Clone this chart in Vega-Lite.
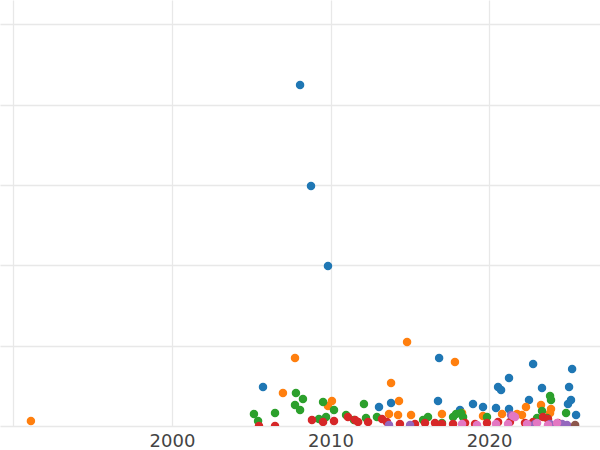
{
  "$schema": "https://vega.github.io/schema/vega-lite/v6.json",
  "width": 600,
  "height": 426,
  "autosize": {"type": "none"},
  "padding": {"left": 0, "top": 0, "right": 0, "bottom": 24},
  "background": "white",
  "config": {"view": {"stroke": null}},
  "data": {"values": [
    {"series": "A", "year": 2008.08, "value": 424.5},
    {"series": "A", "year": 2008.77, "value": 298.8},
    {"series": "A", "year": 2009.84, "value": 199.2},
    {"series": "A", "year": 2005.74, "value": 48.6},
    {"series": "A", "year": 2016.85, "value": 84.7},
    {"series": "A", "year": 2022.78, "value": 77.2},
    {"series": "A", "year": 2025.24, "value": 71.0},
    {"series": "A", "year": 2021.26, "value": 59.8},
    {"series": "A", "year": 2020.57, "value": 48.6},
    {"series": "A", "year": 2020.76, "value": 44.8},
    {"series": "A", "year": 2023.34, "value": 47.3},
    {"series": "A", "year": 2025.05, "value": 48.6},
    {"series": "A", "year": 2013.82, "value": 28.6},
    {"series": "A", "year": 2013.06, "value": 23.7},
    {"series": "A", "year": 2018.99, "value": 27.4},
    {"series": "A", "year": 2019.62, "value": 23.7},
    {"series": "A", "year": 2022.52, "value": 32.4},
    {"series": "A", "year": 2016.78, "value": 31.1},
    {"series": "A", "year": 2018.17, "value": 19.9},
    {"series": "A", "year": 2020.44, "value": 22.4},
    {"series": "A", "year": 2021.26, "value": 21.2},
    {"series": "A", "year": 2025.17, "value": 32.4},
    {"series": "A", "year": 2024.98, "value": 27.4},
    {"series": "A", "year": 2025.49, "value": 13.7},
    {"series": "B", "year": 1991.10, "value": 6.2},
    {"series": "B", "year": 2007.76, "value": 84.7},
    {"series": "B", "year": 2007.00, "value": 41.1},
    {"series": "B", "year": 2010.09, "value": 31.1},
    {"series": "B", "year": 2009.84, "value": 24.9},
    {"series": "B", "year": 2014.83, "value": 104.6},
    {"series": "B", "year": 2017.85, "value": 79.7},
    {"series": "B", "year": 2013.82, "value": 53.5},
    {"series": "B", "year": 2014.32, "value": 31.1},
    {"series": "B", "year": 2013.69, "value": 14.9},
    {"series": "B", "year": 2014.26, "value": 13.7},
    {"series": "B", "year": 2015.08, "value": 13.7},
    {"series": "B", "year": 2017.03, "value": 14.9},
    {"series": "B", "year": 2018.30, "value": 16.2},
    {"series": "B", "year": 2019.62, "value": 12.5},
    {"series": "B", "year": 2020.82, "value": 14.9},
    {"series": "B", "year": 2021.77, "value": 14.9},
    {"series": "B", "year": 2022.33, "value": 23.7},
    {"series": "B", "year": 2023.28, "value": 26.1},
    {"series": "B", "year": 2023.91, "value": 21.2},
    {"series": "B", "year": 2023.85, "value": 16.2},
    {"series": "B", "year": 2022.08, "value": 13.7},
    {"series": "C", "year": 2005.17, "value": 14.9},
    {"series": "C", "year": 2006.50, "value": 16.2},
    {"series": "C", "year": 2005.43, "value": 6.2},
    {"series": "C", "year": 2007.82, "value": 41.1},
    {"series": "C", "year": 2008.26, "value": 33.6},
    {"series": "C", "year": 2007.76, "value": 26.1},
    {"series": "C", "year": 2008.08, "value": 19.9},
    {"series": "C", "year": 2009.53, "value": 29.9},
    {"series": "C", "year": 2010.22, "value": 19.9},
    {"series": "C", "year": 2009.27, "value": 8.7},
    {"series": "C", "year": 2009.72, "value": 11.2},
    {"series": "C", "year": 2010.98, "value": 13.7},
    {"series": "C", "year": 2011.48, "value": 7.5},
    {"series": "C", "year": 2012.11, "value": 27.4},
    {"series": "C", "year": 2012.24, "value": 10.0},
    {"series": "C", "year": 2012.93, "value": 11.2},
    {"series": "C", "year": 2015.84, "value": 7.5},
    {"series": "C", "year": 2016.15, "value": 11.2},
    {"series": "C", "year": 2017.03, "value": 3.7},
    {"series": "C", "year": 2017.73, "value": 11.2},
    {"series": "C", "year": 2017.92, "value": 14.9},
    {"series": "C", "year": 2018.23, "value": 16.2},
    {"series": "C", "year": 2018.36, "value": 11.2},
    {"series": "C", "year": 2019.87, "value": 11.2},
    {"series": "C", "year": 2023.85, "value": 37.4},
    {"series": "C", "year": 2023.91, "value": 32.4},
    {"series": "C", "year": 2023.34, "value": 18.7},
    {"series": "C", "year": 2024.86, "value": 16.2},
    {"series": "C", "year": 2023.66, "value": 10.0},
    {"series": "C", "year": 2023.03, "value": 10.0},
    {"series": "D", "year": 2005.49, "value": 0.0},
    {"series": "D", "year": 2006.50, "value": 0.0},
    {"series": "D", "year": 2008.83, "value": 7.5},
    {"series": "D", "year": 2009.53, "value": 5.0},
    {"series": "D", "year": 2010.22, "value": 6.2},
    {"series": "D", "year": 2011.10, "value": 11.2},
    {"series": "D", "year": 2011.55, "value": 7.5},
    {"series": "D", "year": 2011.74, "value": 5.0},
    {"series": "D", "year": 2012.37, "value": 5.0},
    {"series": "D", "year": 2013.25, "value": 8.7},
    {"series": "D", "year": 2013.56, "value": 5.0},
    {"series": "D", "year": 2014.38, "value": 2.5},
    {"series": "D", "year": 2015.33, "value": 2.5},
    {"series": "D", "year": 2015.96, "value": 3.7},
    {"series": "D", "year": 2016.59, "value": 3.7},
    {"series": "D", "year": 2017.03, "value": 2.5},
    {"series": "D", "year": 2017.73, "value": 2.5},
    {"series": "D", "year": 2018.49, "value": 3.7},
    {"series": "D", "year": 2019.12, "value": 2.5},
    {"series": "D", "year": 2019.87, "value": 3.7},
    {"series": "D", "year": 2020.57, "value": 5.0},
    {"series": "D", "year": 2021.32, "value": 5.0},
    {"series": "D", "year": 2022.27, "value": 3.7},
    {"series": "D", "year": 2022.78, "value": 5.0},
    {"series": "D", "year": 2023.41, "value": 11.2},
    {"series": "D", "year": 2023.72, "value": 8.7},
    {"series": "D", "year": 2024.35, "value": 3.7},
    {"series": "E", "year": 2013.69, "value": 1.2},
    {"series": "E", "year": 2015.02, "value": 1.2},
    {"series": "E", "year": 2021.39, "value": 13.7},
    {"series": "E", "year": 2022.46, "value": 1.2},
    {"series": "E", "year": 2022.90, "value": 2.5},
    {"series": "E", "year": 2023.85, "value": 2.5},
    {"series": "E", "year": 2024.61, "value": 2.5},
    {"series": "E", "year": 2024.92, "value": 1.2},
    {"series": "F", "year": 2018.30, "value": 2.5},
    {"series": "F", "year": 2019.24, "value": 1.2},
    {"series": "F", "year": 2020.44, "value": 2.5},
    {"series": "F", "year": 2021.20, "value": 2.5},
    {"series": "F", "year": 2021.51, "value": 12.5},
    {"series": "F", "year": 2021.64, "value": 11.2},
    {"series": "F", "year": 2022.40, "value": 2.5},
    {"series": "F", "year": 2023.03, "value": 3.7},
    {"series": "F", "year": 2023.72, "value": 1.2},
    {"series": "F", "year": 2024.29, "value": 3.7},
    {"series": "G", "year": 2025.43, "value": 1.2}
  ]},
  "mark": {"type": "circle", "size": 72, "opacity": 1, "clip": true},
  "encoding": {
    "x": {
      "field": "year", "type": "quantitative",
      "scale": {"domain": [1989.15, 2027.0], "nice": false, "zero": false},
      "axis": {
        "title": null, "values": [1990, 2000, 2010, 2020], "format": "d",
        "labelExpr": "datum.value < 1995 ? '' : datum.label",
        "grid": true, "gridColor": "#e8e8e8", "gridWidth": 1.3,
        "ticks": false, "domain": false,
        "labelFont": "DejaVu Sans", "labelFontSize": 18, "labelColor": "#444444",
        "labelPadding": 6, "labelFlush": false, "labelOverlap": false
      }
    },
    "y": {
      "field": "value", "type": "quantitative",
      "scale": {"domain": [0, 530.4], "nice": false, "zero": true},
      "axis": {
        "title": null, "values": [0, 100, 200, 300, 400, 500],
        "labels": false, "ticks": false, "domain": false,
        "grid": true, "gridColor": "#e8e8e8", "gridWidth": 1.3
      }
    },
    "color": {
      "field": "series", "type": "nominal",
      "scale": {"domain": ["A", "B", "C", "D", "E", "F", "G"], "range": ["#1f77b4", "#ff7f0e", "#2ca02c", "#d62728", "#9467bd", "#e377c2", "#8c564b"]},
      "legend": null
    }
  }
}
